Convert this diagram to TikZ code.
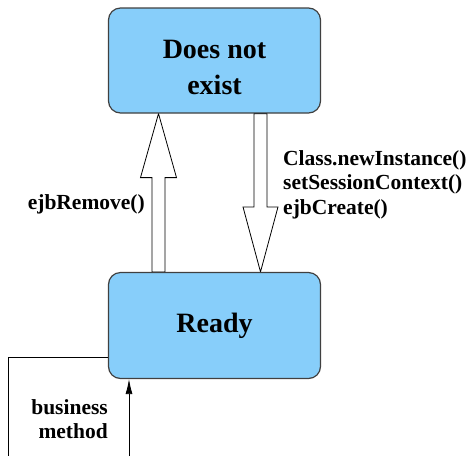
\documentclass[tikz,border=0pt]{standalone}
\usepackage{fontspec}
\setmainfont{Liberation Serif}
\usetikzlibrary{calc,arrows.meta,backgrounds}
\definecolor{celeste}{RGB}{135,206,250}
\tikzset{
  estado/.style={draw=black!75, line width=1.2pt, fill=celeste,
    rounded corners=12pt, minimum width=212pt, align=center,
    font=\fontsize{28}{36}\selectfont\bfseries},
  etiqueta/.style={font=\fontsize{21.5}{24.5}\selectfont\bfseries, inner sep=0pt},
  hueca/.style={draw=black, line width=0.8pt, fill=white, line join=miter},
}
\begin{document}
\begin{tikzpicture}[x=1pt, y=-1pt]

    \useasboundingbox (0,0) rectangle (476,456);

    % Estados
    \node[estado, minimum height=105pt] (noexiste) at (214.5, 60.5) {\rule{0pt}{33pt}Does not\\exist};
    \node[estado, minimum height=106pt] (listo) at (214.5, 325.5) {Ready};

    % Flechas huecas
    \begin{scope}[on background layer]
    \draw[hueca] let \p1=($(listo.north)+(-56,0)$), \p2=($(noexiste.south)+(-56,0)$) in
      (\x1-6.5pt,\y1) -- (\x1-6.5pt,\y2-64pt) -- (\x1-18pt,\y2-64pt) -- (\x2,\y2)
      -- (\x1+18pt,\y2-64pt) -- (\x1+6.5pt,\y2-64pt) -- (\x1+6.5pt,\y1) -- cycle;
    \draw[hueca] let \p1=($(noexiste.south)+(46,0)$), \p2=($(listo.north)+(46,0)$) in
      (\x1-6.5pt,\y1) -- (\x1-6.5pt,\y2+65pt) -- (\x1-17.5pt,\y2+65pt) -- (\x2,\y2)
      -- (\x1+17.5pt,\y2+65pt) -- (\x1+6.5pt,\y2+65pt) -- (\x1+6.5pt,\y1) -- cycle;
    \end{scope}

    % Etiquetas de las transiciones
    \node[etiqueta, anchor=east] (remove) at (145, 204) {ejbRemove()};
    \node[etiqueta, anchor=north west, align=left] (crear) at (283, 150)
      {Class.newInstance()\\setSessionContext()\\ejbCreate()};

    % Metodo de negocio
    \coordinate (salida) at ($(listo.west)+(0,31.5)$);
    \coordinate (fondoizq) at (8, 456);
    \coordinate (fondoder) at (129, 456);
    \draw[line width=0.8pt] (salida) -| (fondoizq);
    \draw[line width=0.8pt, -{Latex[length=15pt, width=7pt]}] (fondoder) -- (fondoder |- listo.south);
    \node[etiqueta, anchor=east, align=right] (negocio) at (108, 419) {business\\method};

  \end{tikzpicture}
\end{document}
